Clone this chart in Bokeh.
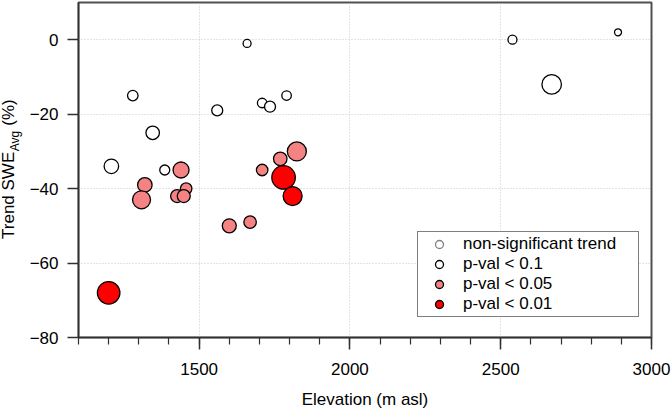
import math
from bokeh.plotting import figure
from bokeh.layouts import row
from bokeh.models import ColumnDataSource, SingleIntervalTicker, Range1d
from bokeh.core.properties import value
from bokeh.embed import file_html
from bokeh.resources import INLINE

# ---- data ----
elevation = [1659, 1280, 1346, 1209, 1386, 1560, 1709, 1735, 1790, 2539, 2889, 2669,
             1320, 1309, 1440, 1457, 1427, 1449, 1824, 1769, 1709, 1600, 1669,
             1780, 1810, 1200]
trend = [-1, -15, -25, -34, -35, -19, -17, -18, -15, 0, 2, -12,
         -39, -43, -35, -40, -42, -42, -30, -32, -35, -50, -49,
         -37, -42, -68]
marker_d = [8, 10.5, 13.5, 14.5, 10, 11, 9.5, 11, 9.5, 9, 7, 19.5,
            14.5, 18, 16, 11.5, 13, 13, 19, 13.5, 11.5, 14, 12.5,
            23.5, 19, 22.5]
signif = ["p-val < 0.1"] * 12 + ["p-val < 0.05"] * 11 + ["p-val < 0.01"] * 3

categories = ["non-significant trend", "p-val < 0.1", "p-val < 0.05", "p-val < 0.01"]
x_ticks_major = 500
y_ticks_major = 20
y_title_main = "Trend SWE"
y_title_sub = "Avg"
y_title_unit = "(%)"
x_title = "Elevation (m asl)"

FONT = "Liberation Sans"
fill_of = {"non-significant trend": "white", "p-val < 0.1": "white",
           "p-val < 0.05": "#F58383", "p-val < 0.01": "#FF0000"}
line_of = {"non-significant trend": "#808080", "p-val < 0.1": "black",
           "p-val < 0.05": "black", "p-val < 0.01": "black"}

W, H = 671, 411
LW = 24            # width of the strip carrying the y title
FT, FB = 2, 342    # frame top / bottom in pixels

# ---- main plot ----
p = figure(width=W - LW, height=H, x_range=Range1d(1100, 3000), y_range=Range1d(-80, 10),
           output_backend="svg", toolbar_location=None,
           min_border_left=78 - LW, min_border_right=20, min_border_top=FT,
           min_border_bottom=H - FB)
p.outline_line_color = "#505050"
p.outline_line_width = 2

for cat in categories:
    idx = [i for i, s in enumerate(signif) if s == cat]
    if idx:
        src = ColumnDataSource(dict(x=[elevation[i] for i in idx],
                                    y=[trend[i] for i in idx],
                                    s=[marker_d[i] for i in idx]))
    else:
        # category shown in the legend but without observed points
        src = ColumnDataSource(dict(x=[float("nan")], y=[float("nan")], s=[10]))
    p.scatter("x", "y", size="s", source=src, marker="circle",
              fill_color=fill_of[cat], line_color=line_of[cat], line_width=1.3,
              legend_label=cat)

xa = p.xaxis[0]
ya = p.yaxis[0]
xa.ticker = SingleIntervalTicker(interval=x_ticks_major, num_minor_ticks=5)
ya.ticker = SingleIntervalTicker(interval=y_ticks_major, num_minor_ticks=0)
for ax in (xa, ya):
    ax.axis_line_color = "#303030"
    ax.axis_line_width = 1.5
    ax.major_tick_line_color = "#303030"
    ax.major_tick_line_width = 1.5
    ax.minor_tick_line_color = "#303030"
    ax.minor_tick_line_width = 1.2
    ax.major_tick_in = 0
    ax.minor_tick_in = 0
    ax.major_label_text_font = FONT
    ax.major_label_text_font_size = "17px"
    ax.major_label_text_color = "black"
xa.major_tick_out = 12
xa.minor_tick_out = 7
xa.major_label_standoff = 13
xa.axis_label = x_title
xa.axis_label_text_font = FONT
xa.axis_label_text_font_size = "17px"
xa.axis_label_text_font_style = "normal"
xa.axis_label_text_color = "black"
xa.axis_label_standoff = 12
ya.major_tick_out = 11
ya.minor_tick_line_color = None
ya.major_label_standoff = 9
ya.axis_label = None

for g in (p.xgrid[0], p.ygrid[0]):
    g.grid_line_color = "#c8c8c8"
    g.grid_line_dash = "1 2"
    g.grid_line_width = 1

lg = p.legend[0]
lg.location = (339, 20)
lg.margin = 0
lg.padding = 2
lg.spacing = 0
lg.glyph_width = 38
lg.glyph_height = 20
lg.label_height = 20
lg.label_width = 173
lg.label_standoff = 5
lg.label_text_font = FONT
lg.label_text_font_size = "17px"
lg.label_text_color = "black"
lg.border_line_color = "black"
lg.border_line_width = 1.5
lg.background_fill_alpha = 1

# ---- narrow strip with the rotated y title (its frame is aligned with the main frame;
#      y range set so that data y == pixel y from the top) ----
t = figure(width=LW, height=H, x_range=Range1d(0, LW), y_range=Range1d(FB, FT),
           output_backend="svg", toolbar_location=None,
           min_border_left=0, min_border_right=0, min_border_top=FT,
           min_border_bottom=H - FB, x_axis_location=None, y_axis_location=None)
t.outline_line_color = None
t.xgrid.visible = False
t.ygrid.visible = False
XS = -7  # horizontal correction for rotated-text anchoring
t.text(x=[14.5 + XS], y=[242], text=[y_title_main], angle=math.pi / 2,
       text_font=value(FONT), text_font_size=value("17px"), text_color="black",
       text_align="left", text_baseline="alphabetic")
t.text(x=[21.0 + XS], y=[153], text=[y_title_sub], angle=math.pi / 2,
       text_font=value(FONT), text_font_size=value("12px"), text_color="black",
       text_align="left", text_baseline="alphabetic")
t.text(x=[14.5 + XS], y=[127], text=[y_title_unit], angle=math.pi / 2,
       text_font=value(FONT), text_font_size=value("17px"), text_color="black",
       text_align="left", text_baseline="alphabetic")

layout = row(t, p)
open("out.html", "w").write(file_html(layout, INLINE))
